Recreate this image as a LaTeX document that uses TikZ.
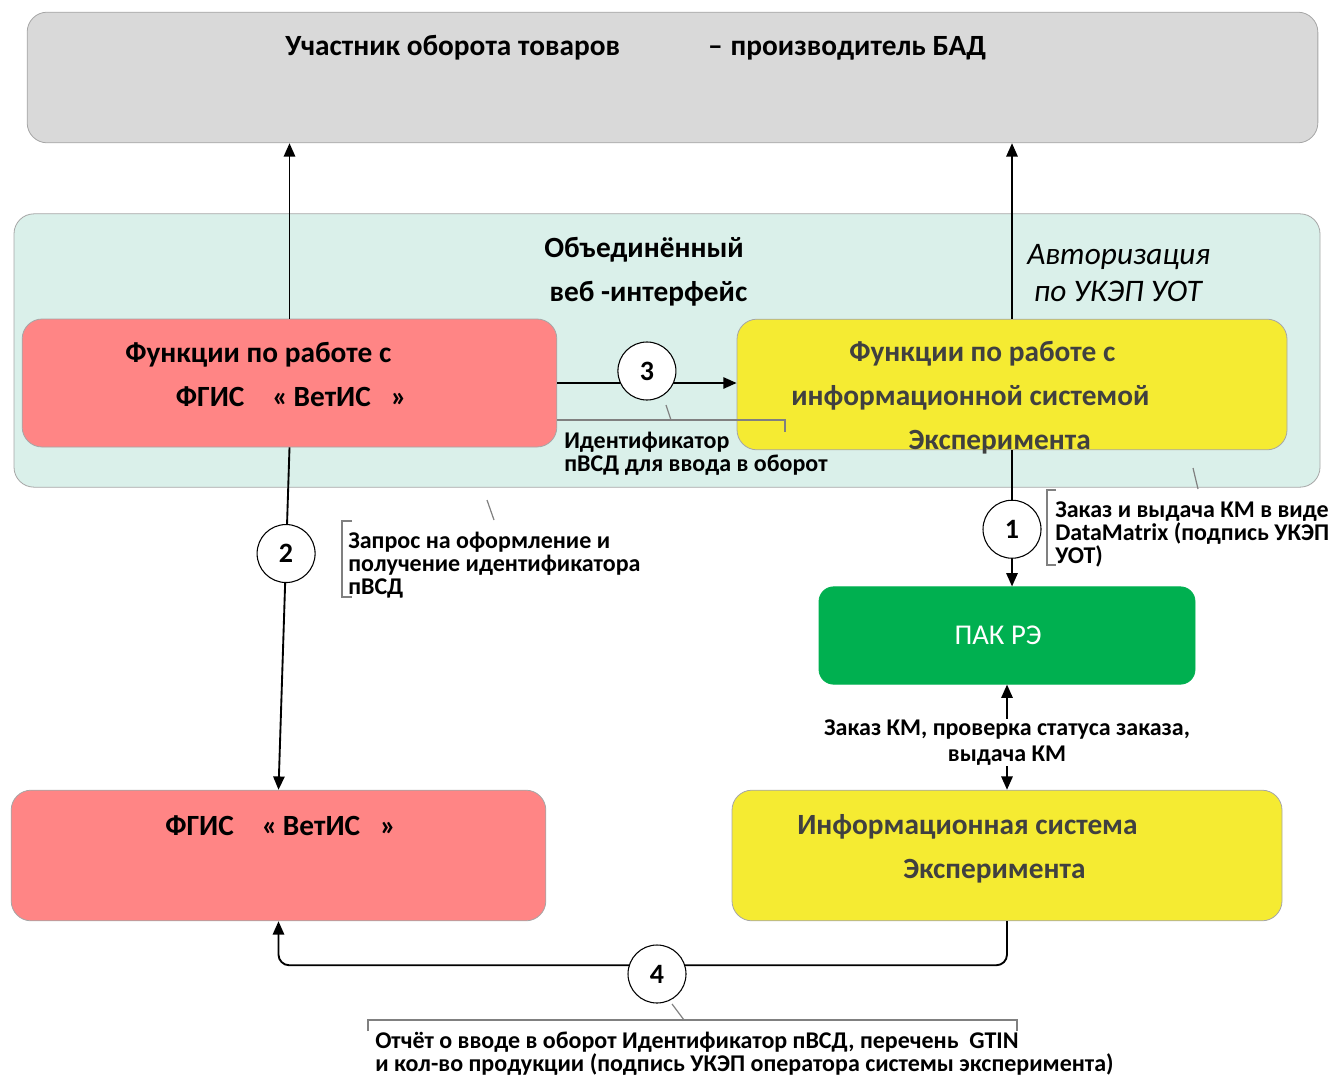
\documentclass[tikz,border=0pt]{standalone}
\usepackage{fontspec}
\setmainfont{Carlito}
\usetikzlibrary{arrows.meta, positioning}
\definecolor{boxgray}{RGB}{217,217,217}
\definecolor{webteal}{RGB}{218,240,234}
\definecolor{vetred}{RGB}{255,133,133}
\definecolor{expyellow}{RGB}{245,235,50}
\definecolor{pakgreen}{RGB}{0,176,80}
\definecolor{darktext}{RGB}{64,64,64}
\definecolor{edgegray}{RGB}{166,166,166}
\tikzset{
  basebox/.style={draw=edgegray, line width=0.6pt, rounded corners=15pt, inner sep=0pt},
  uotbox/.style={basebox, fill=boxgray, minimum width=968pt, minimum height=98pt},
  webbox/.style={basebox, fill=webteal, minimum width=979.5pt, minimum height=205pt},
  vetbox/.style={basebox, fill=vetred, minimum width=401pt, minimum height=98pt},
  expbox/.style={basebox, fill=expyellow, minimum width=412.5pt, minimum height=98pt},
  pakbox/.style={basebox, fill=pakgreen, draw=pakgreen, rounded corners=11pt, minimum width=282pt, minimum height=73pt, text=white, font=\fontsize{21.5}{22}\selectfont},
  boxtext/.style={font=\fontsize{22}{33}\selectfont\bfseries, align=left, anchor=base west, inner sep=0pt},
  authtext/.style={font=\fontsize{23.5}{27.75}\selectfont\itshape, align=left, anchor=base west, inner sep=0pt},
  notetext/.style={font=\fontsize{18}{17.25}\selectfont\bfseries, align=left, anchor=base west, inner sep=0pt},
  numcircle/.style={circle, draw, line width=0.8pt, fill=white, minimum size=43.5pt, inner sep=0pt, font=\fontsize{21}{21}\selectfont\bfseries},
  arrow/.style={-{Triangle[length=10pt,width=8.5pt]}, line width=1.4pt},
  dblarrow/.style={{Triangle[length=10pt,width=8.5pt]}-{Triangle[length=10pt,width=8.5pt]}, line width=1.4pt},
  bracket/.style={draw=gray, line width=0.9pt}
}
\begin{document}
\begin{tikzpicture}[x=0.75pt, y=-0.75pt]
\useasboundingbox (0,0) rectangle (1333,1077);

% Boxes
\node[uotbox] (uot) at (672.5,77.5) {};
\node[webbox] (web) at (667,350.5) {};
\node[vetbox, minimum height=96pt] (vetfn) at (289.5,383) {};
\node[expbox] (expfn) at (1012,384.5) {};
\node[pakbox] (pak) at (1007,635.5) {\hspace*{-13.5pt}ПАК РЭ};
\node[expbox] (expis) at (1007,855.5) {};
\node[vetbox] (vetis) at (278.5,855.5) {};

% Box texts (base = last line)
\node[boxtext] (uottext) at (285,56) {Участник оборота товаров\hspace{66pt}–\hspace{6pt}производитель БАД};
\node[boxtext] (webtext) at (544,301) {Объединённый\\\hspace*{4pt}веб -интерфейс};
\node[authtext] (authtext) at (1027,301) {Авторизация\\\hspace*{5pt}по УКЭП УОТ};
\node[boxtext] (vetfntext) at (125,406) {Функции по работе с\\\hspace*{38pt}ФГИС\hspace{21pt}«\hspace{4pt}ВетИС\hspace{15pt}»};
\node[boxtext, text=darktext] (expfntext) at (791,449) {\hspace*{43.5pt}Функции по работе с\\информационной системой\\\hspace*{88pt}Эксперимента};
\node[boxtext] (vetistext) at (165,835) {ФГИС\hspace{21pt}«\hspace{4pt}ВетИС\hspace{15pt}»};
\node[boxtext, text=darktext] (expistext) at (797,878) {Информационная система\\\hspace*{79.5pt}Эксперимента};

% Connections
\draw[arrow] (vetfn.north) -- (vetfn.north |- uot.south);
\draw[arrow] (expfn.north) -- (expfn.north |- uot.south);
\draw[arrow] (vetfn.east) -- (vetfn.east -| expfn.west) node[numcircle, midway, yshift=9pt] (n3) {3};
\draw[arrow] (expfn.south) -- (expfn.south |- pak.north) node[numcircle, pos=0.58] (n1) {1};
\draw[arrow] (vetfn.south) -- (vetis.north) node[numcircle, pos=0.31] (n2) {2};
\draw[dblarrow] (pak.south) -- (expis.north) node[notetext, midway, anchor=center, align=center, fill=white, font=\fontsize{18}{20}\selectfont\bfseries, yshift=-4pt] (kmtext) {Заказ КМ, проверка статуса заказа,\\выдача КМ};
\draw[arrow, rounded corners=8pt] (expis.south) -- ++(0,44) -| (vetis.south);
\node[numcircle] (n4) at (657,974) {4};

% Notes (base = last line)
\node[notetext] (note3) at (564,471) {Идентификатор\\пВСД для ввода в оборот};
\node[notetext] (note1) at (1055,563) {Заказ и выдача КМ в виде\\DataMatrix (подпись УКЭП\\УОТ)};
\node[notetext] (note2) at (348,594) {Запрос на оформление и\\получение идентификатора\\пВСД};
\node[notetext] (note4) at (375,1071) {Отчёт о вводе в оборот Идентификатор пВСД, перечень\hspace{8pt}GTIN\\и кол-во продукции (подпись УКЭП оператора системы эксперимента)};

% Brackets
\draw[bracket] (557,420) -- (785,420) -- (785,432);
\draw[bracket] (666,405) -- (671,420);
\draw[bracket] (1056,490) -- (1047,490) -- (1047,565) -- (1056,565);
\draw[bracket] (1193,468) -- (1198,489);
\draw[bracket] (352,521) -- (342,521) -- (342,597) -- (352,597);
\draw[bracket] (487,500) -- (494,520);
\draw[bracket] (368,1031) -- (368,1020) -- (1017,1020) -- (1017,1031);
\draw[bracket] (672,1004) -- (684,1020);

\end{tikzpicture}
\end{document}
